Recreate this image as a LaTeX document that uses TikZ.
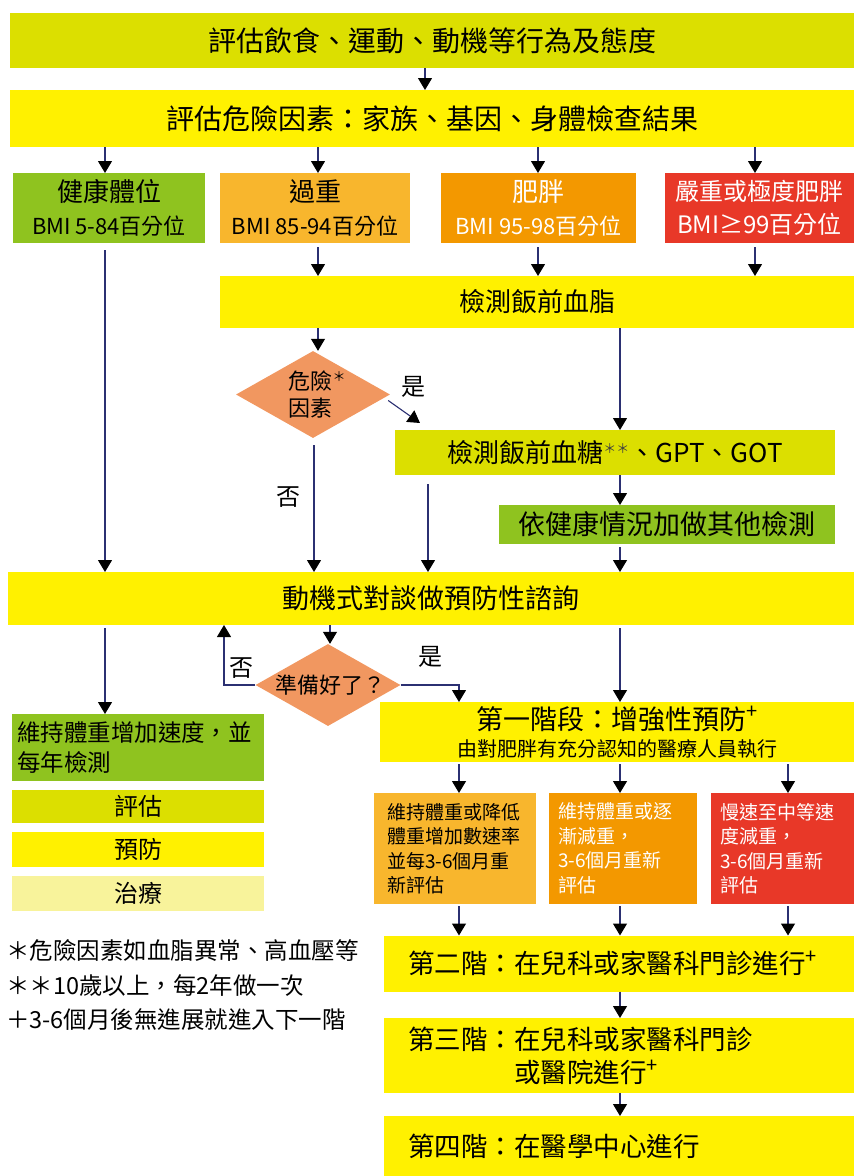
\documentclass[tikz,border=0pt]{standalone}
\usepackage{fontspec}
\setmainfont{Noto Sans CJK TC}
\usetikzlibrary{arrows.meta,shapes.geometric}
\definecolor{olv}{HTML}{DCDF00}
\definecolor{yel}{HTML}{FFF100}
\definecolor{grn}{HTML}{8FC31F}
\definecolor{lor}{HTML}{F8B62D}
\definecolor{org}{HTML}{F39800}
\definecolor{rdd}{HTML}{E83828}
\definecolor{sal}{HTML}{F19760}
\definecolor{pale}{HTML}{F8F39B}
\definecolor{linec}{HTML}{2B3072}
\newcommand\myfs[2]{\fontsize{#1}{#2}\selectfont}
\newcommand\myplus{\raisebox{0.38em}{\fontsize{20}{20}\selectfont +}}
\newcommand\mystar{\raisebox{0.35em}{\fontsize{13}{13}\selectfont ＊}}
\tikzset{
  box/.style={draw=none, inner sep=0pt, outer sep=0pt, align=center, text=black},
  sub/.style={box, align=left, minimum height=111pt, font=\myfs{19}{24.5}},
  conn/.style={draw=linec, line width=1.1pt},
  arr/.style={conn, -{Triangle[width=14pt,length=12pt,color=black]}},
  lbl/.style={inner sep=0pt, font=\myfs{24}{28}}
}
\begin{document}
\begin{tikzpicture}[x=1pt,y=-1pt]
\useasboundingbox (0,0) rectangle (854,1176);
% column coordinates
\coordinate (cT) at (425,0);
\coordinate (cA) at (105,0);
\coordinate (cB) at (318,0);
\coordinate (cB2) at (314,0);
\coordinate (cC) at (538,0);
\coordinate (cD) at (755,0);
\coordinate (cE) at (620,0);
\coordinate (cF) at (428,0);
\coordinate (cG) at (330,0);
\coordinate (cH) at (459,0);
\coordinate (cI) at (788,0);
\coordinate (cJ) at (224,0);

\node[box, fill=olv, minimum width=844pt, minimum height=55pt, font=\myfs{28}{34}] (assess) at (432,40.5) {評估飲食、運動、動機等行為及態度};
\node[box, fill=yel, minimum width=844pt, minimum height=57pt, font=\myfs{28}{34}] (riskf) at (432,118.5) {評估危險因素：家族、基因、身體檢查結果};

\node[box, fill=grn, minimum width=192pt, minimum height=70pt, font=\myfs{26}{33}] (healthy) at (109,208) {健康體位\\{\myfs{22}{33}BMI 5-84百分位}};
\node[box, fill=lor, minimum width=190pt, minimum height=70pt, font=\myfs{26}{33}] (over) at (315,208) {過重\\{\myfs{22}{33}BMI 85-94百分位}};
\node[box, fill=org, text=white, minimum width=195pt, minimum height=70pt, font=\myfs{26}{33}] (obese) at (538.5,208) {肥胖\\{\myfs{22}{33}BMI 95-98百分位}};
\node[box, fill=rdd, text=white, minimum width=189pt, minimum height=70pt, font=\myfs{24}{33}] (severe) at (759.5,208) {嚴重或極度肥胖\\BMI≥99百分位};

\node[box, fill=yel, minimum width=634pt, minimum height=52pt, font=\myfs{26}{32}] (lipid) at (537,302) {檢測飯前血脂};

\node[diamond, fill=sal, inner sep=0pt, minimum width=154pt, minimum height=87pt, aspect=1.77,
  label={[name=risk1t, align=left, inner sep=0pt, font=\myfs{22}{27}, xshift=4pt]center:{危險\mystar\\因素}}] (risk1) at (313,394.5) {};

\node[box, fill=olv, minimum width=440pt, minimum height=45pt, font=\myfs{26}{30}] (bsugar) at (615,452.5) {檢測飯前血糖{\color{black!75}\mystar\mystar}、GPT、GOT};
\node[box, fill=grn, minimum width=336pt, minimum height=39pt, font=\myfs{27}{32}] (other) at (667,524.5) {依健康情況加做其他檢測};

\node[box, fill=yel, minimum width=846pt, minimum height=53pt, font=\myfs{27}{32}] (motiv) at (431,598.5) {動機式對談做預防性諮詢};

\node[diamond, fill=sal, inner sep=0pt, minimum width=145pt, minimum height=82pt, aspect=1.77,
  label={[name=readyt, inner sep=0pt, font=\myfs{22}{28}, xshift=2pt]center:準備好了？}] (ready) at (328,685) {};

\node[box, fill=yel, minimum width=474pt, minimum height=60pt, font=\myfs{27}{27}] (stage1) at (617,732) {第一階段：增強性預防\myplus\\{\myfs{20}{27}由對肥胖有充分認知的醫療人員執行}};

\node[sub, fill=lor, minimum width=162pt, text width=136pt, inner xsep=13pt] (subA) at (455,848.5) {維持體重或降低\\體重增加數速率\\並每3-6個月重\\新評估};
\node[sub, fill=org, text=white, minimum width=148pt, text width=130pt, inner xsep=9pt] (subB) at (623,848.5) {維持體重或逐\\漸減重，\\3-6個月重新\\評估};
\node[sub, fill=rdd, text=white, minimum width=143pt, text width=125pt, inner xsep=9pt] (subC) at (782.5,848.5) {慢速至中等速\\度減重，\\3-6個月重新\\評估};

\node[box, fill=yel, minimum width=470pt, minimum height=56pt, text width=422pt, inner xsep=24pt, align=left, font=\myfs{26.5}{33}] (stage2) at (619,963.5) {第二階：在兒科或家醫科門診進行\myplus};
\node[box, fill=yel, minimum width=470pt, minimum height=75pt, text width=422pt, inner xsep=24pt, align=left, font=\myfs{26.5}{33}] (stage3) at (619,1055.5) {第三階：在兒科或家醫科門診\\\hspace*{4em}或醫院進行\myplus};
\node[box, fill=yel, minimum width=470pt, minimum height=60pt, text width=422pt, inner xsep=24pt, align=left, font=\myfs{26.5}{33}] (stage4) at (619,1146) {第四階：在醫學中心進行};

\node[box, fill=grn, minimum width=252pt, minimum height=67pt, text width=242pt, inner xsep=5pt, align=left, font=\myfs{23.5}{30}] (maint) at (138,747.5) {維持體重增加速度，並\\每年檢測};
\node[box, fill=olv, minimum width=252pt, minimum height=33pt, font=\myfs{24}{28}] (lgA) at (138,806.5) {評估};
\node[box, fill=yel, minimum width=252pt, minimum height=35pt, font=\myfs{24}{28}] (lgB) at (138,849.5) {預防};
\node[box, fill=pale, minimum width=252pt, minimum height=35pt, font=\myfs{24}{28}] (lgC) at (138,893.5) {治療};

\node[anchor=west, align=left, inner sep=0pt, font=\myfs{23.5}{34.5}] (notes) at (6,985) {＊危險因素如血脂異常、高血壓等\\＊＊10歲以上，每2年做一次\\＋3-6個月後無進展就進入下一階};

\node[lbl] (yes1) at (413,387) {是};
\node[lbl] (no1) at (288,497) {否};
\node[lbl] (no2) at (241,668) {否};
\node[lbl] (yes2) at (430,657) {是};

% connectors
\draw[arr] (cT |- assess.south) -- (cT |- riskf.north);
\foreach \c/\n in {cA/healthy, cB/over, cC/obese, cD/severe}
  \draw[arr] (\c |- riskf.south) -- (\c |- \n.north);
\draw[arr, shorten <=7pt] (cA |- healthy.south) -- (cA |- motiv.north);
\foreach \c/\n in {cB/over, cC/obese, cD/severe}
  \draw[arr, shorten <=4pt] (\c |- \n.south) -- (\c |- lipid.north);
\draw[arr] (cB |- lipid.south) -- (cB |- risk1.north);
\draw[arr] ([shift={(-2,6)}]risk1.east) -- ([shift={(25,-7)}]bsugar.north west);
\draw[arr] (cE |- lipid.south) -- (cE |- bsugar.north);
\draw[arr, shorten <=7pt] (cB2 |- risk1.south) -- (cB2 |- motiv.north);
\draw[arr, shorten <=9pt] (cF |- bsugar.south) -- (cF |- motiv.north);
\draw[arr] (cE |- bsugar.south) -- (cE |- other.north);
\draw[arr, shorten <=3pt] (cE |- other.south) -- (cE |- motiv.north);
\draw[arr, shorten <=3pt] (cA |- motiv.south) -- (cA |- maint.north);
\draw[arr] (cG |- motiv.south) -- (cG |- ready.north);
\draw[arr, shorten <=3pt] (cE |- motiv.south) -- (cE |- stage1.north);
\draw[arr] (ready.west) -| (cJ |- motiv.south);
\draw[arr] (ready.east) -| (cH |- stage1.north);
\foreach \c/\n in {cH/subA, cE/subB, cI/subC} {
  \draw[arr, shorten <=2pt] (\c |- stage1.south) -- (\c |- \n.north);
  \draw[arr, shorten <=2pt] (\c |- \n.south) -- (\c |- stage2.north);
}
\draw[arr] (cE |- stage2.south) -- (cE |- stage3.north);
\draw[arr] (cE |- stage3.south) -- (cE |- stage4.north);
\end{tikzpicture}
\end{document}
